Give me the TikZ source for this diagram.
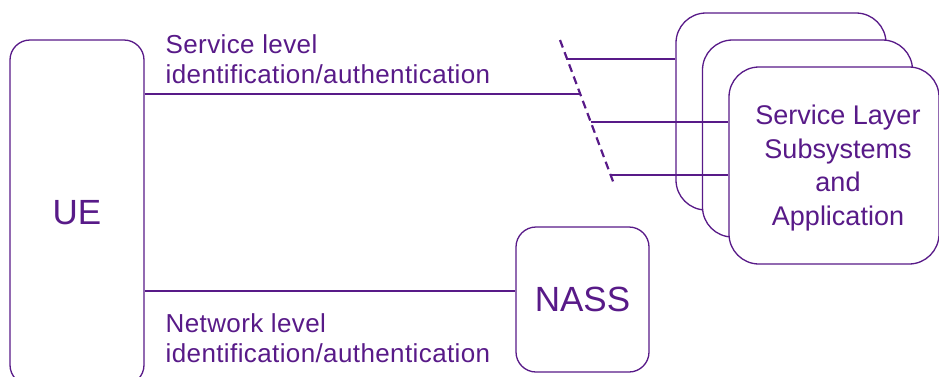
\documentclass[tikz,border=0pt]{standalone}
\usepackage{fontspec}
\setmainfont{Liberation Sans}
\usetikzlibrary{positioning}
\definecolor{nassviolet}{RGB}{88,26,136}

\begin{document}
\begin{tikzpicture}[x=1pt,y=-1pt,draw=nassviolet,line width=1.3pt]
    \tikzstyle{block}=[draw=nassviolet, fill=white, rectangle, rounded corners=20pt, inner sep=0pt, text=nassviolet]
    \tikzstyle{big block}=[block, font=\fontsize{35}{40}\selectfont]
    \tikzstyle{layer block}=[block, rounded corners=30pt, minimum width=210pt, minimum height=197pt]
    \tikzstyle{annot}=[text=nassviolet, align=left, inner sep=0pt, font=\fontsize{26}{30}\selectfont\addfontfeatures{LetterSpace=1.5}]
    \tikzstyle{cut}=[dash pattern=on 8pt off 5pt, line width=2.2pt]

    \useasboundingbox (0,0) rectangle (939,376);

    \node[big block, minimum width=134pt, minimum height=345pt] (UE) at (77,212.5) {UE};
    \node[big block, minimum width=133pt, minimum height=145pt] (NASS) at (582.5,299.5) {NASS};

    \foreach \i in {0,1,2}{
        \pgfmathsetmacro\bx{781+26.5*\i}
        \pgfmathsetmacro\by{111.5+27*\i}
        \node[layer block] (L-\i) at (\bx,\by) {};
    }
    \node[annot, align=center, font=\fontsize{27}{33.5}\selectfont, xshift=4pt, yshift=-2.5pt] (svc) at (L-2) {Service Layer\\Subsystems\\and\\Application};

    \draw[cut] (560,40) -- coordinate[pos=.132] (T-0) coordinate[pos=.375] (T-ue)
        coordinate[pos=.569] (T-1) coordinate[pos=.9375] (T-2) (614,184);

    \path (UE.east |- T-ue) edge (T-ue);
    \path (T-0) edge (T-0 -| L-0.west);
    \path (T-1) edge (T-1 -| L-2.west);
    \path (T-2) edge (T-2 -| L-2.west);

    \coordinate (N-in) at (NASS.west |- 0,291);
    \path (UE.east |- N-in) edge (N-in);

    \node[annot, anchor=north west] (svc-lbl) at (165,34) {Service level\\identification/authentication};
    \node[annot, anchor=north west] (net-lbl) at (165,313) {Network level\\identification/authentication};
\end{tikzpicture}
\end{document}
